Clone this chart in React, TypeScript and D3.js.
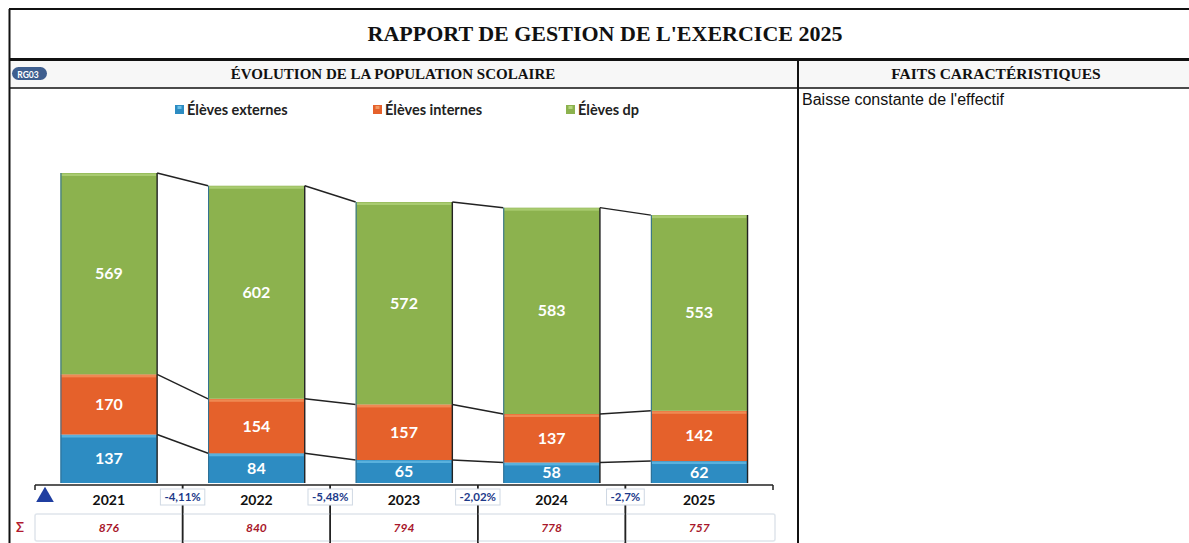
import * as d3 from 'd3';
import { useEffect, useRef } from 'react';

// données
const years = ['2021', '2022', '2023', '2024', '2025'];
const externes = [137, 84, 65, 58, 62];
const internes = [170, 154, 157, 137, 142];
const dp = [569, 602, 572, 583, 553];
const totals = [876, 840, 794, 778, 757];
const variations = ['-4,11%', '-5,48%', '-2,02%', '-2,7%'];
const seriesNames = ['Élèves externes', 'Élèves internes', 'Élèves dp'];
const seriesColors = ['#2d8cc2', '#e5612b', '#8cb24e'];
const seriesLight = ['#6cc0e8', '#f39a64', '#b5d67f'];

const W = 1189;
const H = 543;
const FONT = "Lato, 'Open Sans', sans-serif";
const SERIF = "'Liberation Serif', 'DejaVu Serif', serif";

export default function App() {
  const ref = useRef<SVGSVGElement>(null);

  useEffect(() => {
    if (!ref.current) return;
    const svg = d3.select(ref.current);
    svg.selectAll('*').remove();

    svg.append('rect').attr('width', W).attr('height', H).attr('fill', '#fff');

    // cadre
    svg.append('rect').attr('x', 9).attr('y', 60).attr('width', W).attr('height', 28).attr('fill', '#f7f7f7');
    svg.append('line').attr('x1', 9).attr('x2', W).attr('y1', 9).attr('y2', 9).attr('stroke', '#111').attr('stroke-width', 2);
    svg.append('line').attr('x1', 9).attr('x2', W).attr('y1', 59.5).attr('y2', 59.5).attr('stroke', '#111').attr('stroke-width', 3);
    svg.append('line').attr('x1', 9).attr('x2', W).attr('y1', 88).attr('y2', 88).attr('stroke', '#111').attr('stroke-width', 1.5);
    svg.append('line').attr('x1', 9.5).attr('x2', 9.5).attr('y1', 9).attr('y2', H).attr('stroke', '#111').attr('stroke-width', 2);
    svg.append('line').attr('x1', 798).attr('x2', 798).attr('y1', 59).attr('y2', H).attr('stroke', '#111').attr('stroke-width', 2);

    svg.append('text').text("RAPPORT DE GESTION DE L'EXERCICE 2025")
      .attr('x', 605).attr('y', 41).attr('text-anchor', 'middle')
      .attr('font-family', SERIF).attr('font-weight', 'bold').attr('font-size', 22).attr('fill', '#111');

    // badge RG03
    svg.append('rect').attr('x', 12).attr('y', 67).attr('width', 35).attr('height', 13).attr('rx', 6.5)
      .attr('fill', '#3f5f8f');
    svg.append('text').text('RG03').attr('x', 28).attr('y', 77.5).attr('text-anchor', 'middle')
      .attr('font-family', FONT).attr('font-weight', 'bold').attr('font-size', 8.5).attr('fill', '#fff');

    svg.append('text').text('ÉVOLUTION DE LA POPULATION SCOLAIRE')
      .attr('x', 393).attr('y', 79).attr('text-anchor', 'middle')
      .attr('font-family', SERIF).attr('font-weight', 'bold').attr('font-size', 15).attr('fill', '#111');
    svg.append('text').text('FAITS CARACTÉRISTIQUES')
      .attr('x', 996).attr('y', 79).attr('text-anchor', 'middle')
      .attr('font-family', SERIF).attr('font-weight', 'bold').attr('font-size', 15.5).attr('fill', '#111');
    svg.append('text').text("Baisse constante de l'effectif")
      .attr('x', 802).attr('y', 105)
      .attr('font-family', "'Liberation Sans', Arial, sans-serif").attr('font-size', 16).attr('fill', '#111');

    // légende
    const legendX = [175, 373, 566];
    seriesNames.forEach((name, i) => {
      const g = svg.append('g').attr('transform', `translate(${legendX[i]},105)`);
      g.append('rect').attr('width', 9).attr('height', 9).attr('y', 0).attr('fill', seriesColors[i]);
      g.append('rect').attr('width', 4).attr('height', 3).attr('x', 2.5).attr('y', 1).attr('fill', seriesLight[i]);
      g.append('text').text(name).attr('x', 12).attr('y', 10)
        .attr('font-family', FONT).attr('font-weight', 'bold').attr('font-size', 14.5).attr('fill', '#222');
    });

    // échelles
    const x = d3.scaleBand().domain(years).range([35, 773]).paddingInner(0.345).paddingOuter(0.1725);
    const y = d3.scaleLinear().domain([0, 876]).range([483, 173]);
    const bw = x.bandwidth();

    const stacked = years.map((yr, i) => ({ year: yr, externes: externes[i], internes: internes[i], dp: dp[i] }));
    const stack = d3.stack<any>().keys(['externes', 'internes', 'dp'])(stacked);

    // lignes de séries
    stack.forEach((layer) => {
      for (let i = 0; i < years.length - 1; i++) {
        svg.append('line')
          .attr('x1', x(years[i])! + bw).attr('y1', y(layer[i][1]))
          .attr('x2', x(years[i + 1])!).attr('y2', y(layer[i + 1][1]))
          .attr('stroke', '#222').attr('stroke-width', 1.4);
      }
    });

    stack.forEach((layer, li) => {
      layer.forEach((d, i) => {
        const x0 = x(years[i])!;
        const yTop = y(d[1]);
        const yBot = y(d[0]);
        svg.append('rect').attr('x', x0).attr('y', yTop).attr('width', bw).attr('height', yBot - yTop)
          .attr('fill', seriesColors[li]);
        svg.append('rect').attr('x', x0 + 1).attr('y', yTop + 0.5).attr('width', bw - 2).attr('height', 2.5)
          .attr('fill', seriesLight[li]).attr('opacity', 0.7);
        svg.append('text').text(d.data[layer.key])
          .attr('x', x0 + bw / 2).attr('y', (yTop + yBot) / 2 + 5.5).attr('text-anchor', 'middle')
          .attr('font-family', FONT).attr('font-weight', 'bold').attr('font-size', 16).attr('fill', '#fff');
      });
    });

    // bords des barres
    years.forEach((yr, i) => {
      const x0 = x(yr)!;
      svg.append('line').attr('x1', x0 + bw).attr('x2', x0 + bw).attr('y1', y(totals[i])).attr('y2', y(0))
        .attr('stroke', '#222').attr('stroke-width', 1.4);
      svg.append('line').attr('x1', x0 + 0.5).attr('x2', x0 + 0.5).attr('y1', y(totals[i])).attr('y2', y(0))
        .attr('stroke', '#2f6f93').attr('stroke-width', 1);
    });

    // axe
    const step = x.step();
    const bounds = d3.range(years.length + 1).map((k) => 35 + k * step);
    svg.append('line').attr('x1', 35).attr('x2', 773).attr('y1', 485).attr('y2', 485)
      .attr('stroke', '#222').attr('stroke-width', 1.5);
    bounds.forEach((bx, k) => {
      const inner = k > 0 && k < years.length;
      svg.append('line').attr('x1', bx).attr('x2', bx).attr('y1', 485).attr('y2', inner ? H : 490)
        .attr('stroke', '#222').attr('stroke-width', 1.5);
    });

    // ligne Σ
    svg.append('rect').attr('x', 35).attr('y', 514).attr('width', 740).attr('height', 27).attr('rx', 2)
      .attr('fill', 'none').attr('stroke', '#dfe5ec').attr('stroke-width', 1.5);
    bounds.slice(1, -1).forEach((bx) => {
      svg.append('line').attr('x1', bx).attr('x2', bx).attr('y1', 485).attr('y2', H)
        .attr('stroke', '#222').attr('stroke-width', 1.5);
    });

    svg.append('path').attr('d', d3.symbol(d3.symbolTriangle, 135)()!)
      .attr('transform', 'translate(45,497)').attr('fill', '#1f3ea0');
    svg.append('text').text('Σ').attr('x', 16).attr('y', 532)
      .attr('font-family', FONT).attr('font-weight', 'bold').attr('font-size', 13).attr('fill', '#b21a2e');

    years.forEach((yr, i) => {
      const cx = x(yr)! + bw / 2;
      svg.append('text').text(yr).attr('x', cx).attr('y', 505).attr('text-anchor', 'middle')
        .attr('font-family', FONT).attr('font-weight', 'bold').attr('font-size', 14).attr('fill', '#111');
      svg.append('text').text(totals[i]).attr('x', cx).attr('y', 532).attr('text-anchor', 'middle')
        .attr('font-family', FONT).attr('font-weight', 'bold').attr('font-style', 'italic')
        .attr('font-size', 12).attr('fill', '#a8172b');
    });

    variations.forEach((v, k) => {
      const bx = bounds[k + 1];
      const g = svg.append('g');
      const t = g.append('text').text(v).attr('x', bx).attr('y', 501).attr('text-anchor', 'middle')
        .attr('font-family', FONT).attr('font-weight', 'bold').attr('font-size', 11.5).attr('fill', '#1d3a8a');
      const len = (t.node() as SVGTextElement).getComputedTextLength();
      g.insert('rect', 'text').attr('x', bx - len / 2 - 4).attr('y', 489).attr('width', len + 8).attr('height', 16)
        .attr('fill', '#fff').attr('stroke', '#cfd8e3').attr('stroke-width', 1);
    });
  }, []);

  return <svg ref={ref} width={W} height={H} style={{ display: 'block', position: 'absolute', left: 0, top: 0 }} />;
}
